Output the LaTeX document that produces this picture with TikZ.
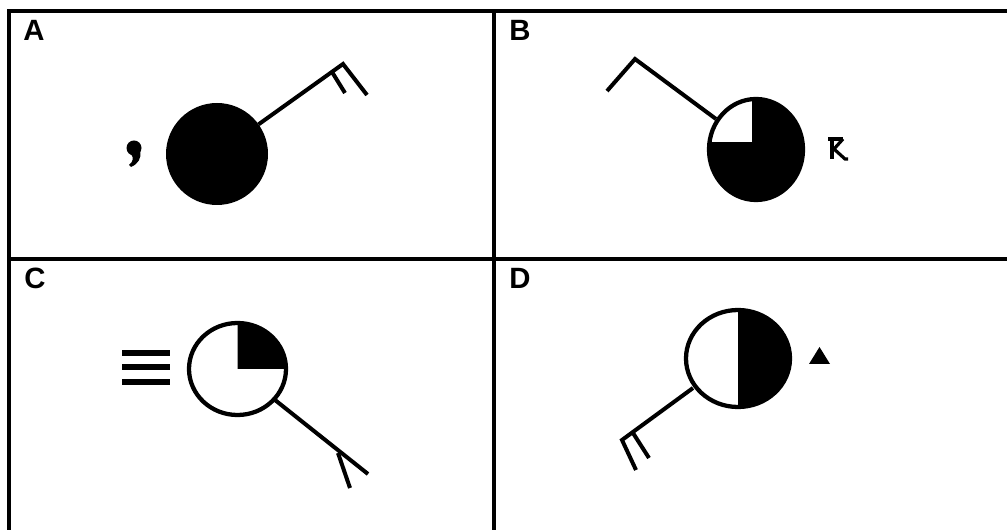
\documentclass[tikz,border=0pt]{standalone}
\usepackage{fontspec}
\setmainfont{Liberation Sans}
\tikzset{
  gridline/.style={line width=3.2pt},
  panel label/.style={anchor=north west, inner sep=0pt, font=\bfseries\fontsize{22}{26}\selectfont},
  sym/.style={line width=3pt},
  ring/.style={line width=3.2pt},
}
\begin{document}
\begin{tikzpicture}[x=0.75pt,y=-0.75pt]
\useasboundingbox (0,0) rectangle (1007,530);
% grid
\draw[gridline] (9,530) -- (9,11) -- (1007,11);
\draw[gridline] (494,11) -- (494,530);
\draw[gridline] (9,259) -- (1007,259);
% labels
\node[panel label] (la) at (23,20) {A};
\node[panel label] (lb) at (509,20) {B};
\node[panel label] (lc) at (24,268) {C};
\node[panel label] (ld) at (509,268) {D};
% ---- Panel A
\coordinate (ca) at (217,154);
\fill (ca) circle (51);
\draw[sym] (258.5,124.4) -- (343,64) -- (367,95);
\draw[sym] (332,72) -- (345,93);
\fill (134,148) circle (7.5);
\fill (140,151) .. controls (142,158) and (138,164) .. (131,167) -- (129,165) .. controls (133,162) and (134,158) .. (131,154) -- cycle;
% ---- Panel B
\coordinate (cb) at (756,149.5);
\begin{scope}
  \clip (cb) ellipse [x radius=47, y radius=50.5];
  \fill (700,90) rectangle (810,210);
  \fill[white] (700,90) rectangle (752,142);
\end{scope}
\draw[ring] (cb) ellipse [x radius=47, y radius=50.5];
\draw[sym] (716,119) -- (635,59) -- (607,91);
\draw[line width=2.4pt] (828,139) -- (843,139);
\draw[line width=2.8pt] (832,139) -- (832,159);
\draw[line width=2.4pt] (843,139) -- (834,149) -- (845,159) -- (848,159);
% ---- Panel C
\coordinate (cc) at (237.5,369);
\fill (cc) -- ++(48.5,0) arc [start angle=0, end angle=-90, x radius=48.5, y radius=46] -- cycle;
\draw[ring] (cc) ellipse [x radius=48.5, y radius=46];
\draw[line width=3.8pt] (122,353) -- (170,353);
\draw[line width=3.8pt] (122,367) -- (170,367);
\draw[line width=3.8pt] (122,382) -- (170,382);
\draw[sym] (275,400) -- (368,474);
\draw[sym] (338,453) -- (350,488);
% ---- Panel D
\coordinate (cd) at (738,358.5);
\fill (738,310) arc [start angle=-90, end angle=90, x radius=52, y radius=48.5] -- cycle;
\draw[ring] (cd) ellipse [x radius=52, y radius=48.5];
\fill (819.5,347) -- (830,364) -- (809,364) -- cycle;
\draw[sym] (693,388) -- (622,440) -- (636,470);
\draw[sym] (633,433) -- (649,458);
\end{tikzpicture}
\end{document}
